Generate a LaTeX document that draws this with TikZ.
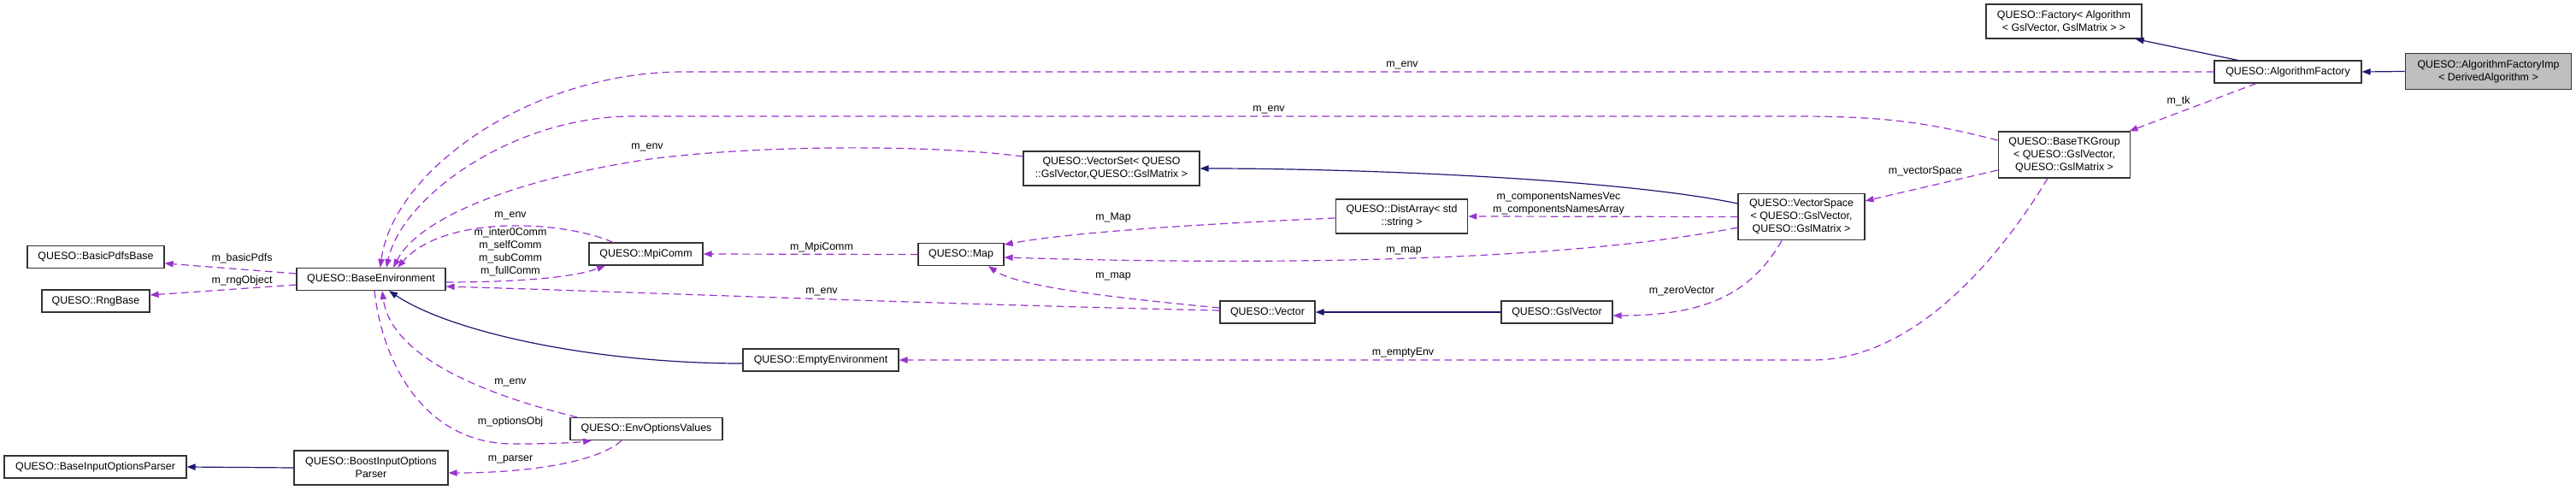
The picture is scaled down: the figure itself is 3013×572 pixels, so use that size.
\documentclass[tikz,border=0pt]{standalone}
\usepackage{fontspec}
\setmainfont{Liberation Sans}
\usetikzlibrary{arrows.meta}

\definecolor{usecol}{HTML}{9A32CD}
\definecolor{inhcol}{HTML}{191970}
\definecolor{boxfill}{HTML}{BFBFBF}

\tikzset{
  cls/.style={draw=black!80, line width=0.9pt, align=center, inner sep=0pt, minimum height=19.5pt},
  uses/.style={->, usecol, line width=0.9pt, dash pattern=on 6.5pt off 4pt},
  inherits/.style={->, inhcol, line width=0.9pt},
  lbl/.style={inner sep=0pt, align=center}
}

\begin{document}
\begin{tikzpicture}[x=0.75pt, y=-0.75pt, >={Triangle[length=7.5pt,width=5.5pt]},
  font=\fontsize{9.3pt}{11.2pt}\selectfont]

\useasboundingbox (0,0) rectangle (3013,572);

% one-line classes
\foreach \nm/\txt/\cx/\cy/\w in {af/AlgorithmFactory/2676/84/172, map/Map/1124/297.5/100,
    mpi/MpiComm/755.5/297/133, gsl/GslVector/1821/365/130, vec/Vector/1482.5/365/111,
    empty/EmptyEnvironment/960/421/182, benv/BaseEnvironment/434/326.5/174,
    pdfs/BasicPdfsBase/112/300.5/160, rng/RngBase/112/352/126,
    opts/EnvOptionsValues/756/501.5/178, bip/BaseInputOptionsParser/111.5/546/213}
  \node [cls, minimum width=\w*0.75pt] (\nm) at (\cx,\cy) {QUESO::\txt};

% classes on more lines
\node [cls, minimum width=146pt, minimum height=31pt, fill=boxfill] (imp) at (2910.5,83.5) {QUESO::AlgorithmFactoryImp\\< DerivedAlgorithm >};
\node [cls, minimum width=136.5pt, minimum height=30pt] (fac) at (2414,25) {QUESO::Factory< Algorithm\\< GslVector, GslMatrix > >};
\node [cls, minimum width=116pt, minimum height=40.5pt] (tk) at (2414.5,181) {QUESO::BaseTKGroup\\< QUESO::GslVector,\\ QUESO::GslMatrix >};
\node [cls, minimum width=111pt, minimum height=41pt] (vs) at (2107,253.5) {QUESO::VectorSpace\\< QUESO::GslVector,\\ QUESO::GslMatrix >};
\node [cls, minimum width=154.5pt, minimum height=30pt] (vset) at (1300,197) {QUESO::VectorSet< QUESO\\::GslVector,QUESO::GslMatrix >};
\node [cls, minimum width=116pt, minimum height=30pt] (da) at (1639.5,253) {QUESO::DistArray< std\\::string >};
\node [cls, minimum width=135pt, minimum height=30pt] (boost) at (434,547) {QUESO::BoostInputOptions\\Parser};

% inheritance
\draw [inherits] (imp.west) -- (af.east);
\draw [inherits] ([xshift=-44pt]af.north) -- ([xshift=-6pt]fac.south east);
\draw [inherits] ([yshift=11.6pt]vs.west) .. controls (1900,210) and (1600,197) .. (vset.east);
\draw [inherits] (gsl.west) -- (vec.east);
\draw [inherits] ([yshift=-3pt]empty.west) .. controls (700,425) and (530,390) .. ([xshift=15.75pt]benv.south);
\draw [inherits] (boost.west) -- (bip.east);

% usage
\draw [uses] (af.west) -- (800,84) .. controls (620,84) and (460,200) .. ([xshift=8pt]benv.north);
\draw [uses] ([xshift=-27.75pt]af.south) -- ([xshift=-1.5pt]tk.north east);
\draw [uses] ([yshift=12.75pt]tk.west) .. controls (2250,142) and (2200,136) .. (2100,136) -- (740,136)
  .. controls (600,136) and (470,230) .. ([xshift=13.5pt]benv.north);
\draw [uses] ([yshift=-13.5pt]tk.west) -- ([yshift=13.9pt]vs.east);
\draw [uses] ([xshift=-14.6pt]tk.south) .. controls (2340,300) and (2240,421) .. (2120,421) -- (empty.east);
\draw [uses] (vs.west) -- (da.east);
\draw [uses] ([yshift=-9.4pt]vs.west) .. controls (1800,312) and (1400,308) .. ([yshift=-2.6pt]map.east);
\draw [uses] ([xshift=-17.25pt]vs.south) .. controls (2050,340) and (2000,369) .. ([yshift=-3pt]gsl.east);
\draw [uses] ([yshift=10.5pt]vset.west) .. controls (1100,170) and (900,168) .. (760,186)
  .. controls (600,210) and (490,255) .. ([xshift=19.5pt]benv.north);
\draw [uses] ([yshift=-1.5pt]da.west) .. controls (1400,262) and (1250,272) .. ([yshift=8.6pt]map.east);
\draw [uses] (map.west) -- (mpi.east);
\draw [uses] ([yshift=3.75pt]vec.west) .. controls (1300,348) and (1190,335) .. ([xshift=24pt]map.south);
\draw [uses] ([yshift=1.5pt]vec.west) .. controls (1100,356) and (700,340) .. ([yshift=-6.4pt]benv.east);
\draw [uses] ([xshift=-28.9pt]mpi.north) .. controls (660,258) and (520,250) .. ([xshift=23.25pt]benv.north);
\draw [uses] ([yshift=-2.6pt]benv.east) .. controls (600,330) and (670,325) .. ([xshift=-35.6pt]mpi.south);
\draw [uses] ([yshift=4.9pt]benv.west) -- ([yshift=-5.6pt]pdfs.east);
\draw [uses] ([yshift=-4.9pt]benv.west) -- ([yshift=5.25pt]rng.east);
\draw [uses] ([xshift=-60.75pt]opts.north) .. controls (520,450) and (455,400) .. ([xshift=9.75pt]benv.south);
\draw [uses] ([xshift=3pt]benv.south) .. controls (448,430) and (500,519) .. (600,519)
  .. controls (640,519) and (670,518) .. ([xshift=-48pt]opts.south);
\draw [uses] ([xshift=-21.75pt]opts.south) .. controls (700,540) and (620,553) .. ([yshift=-4.5pt]boost.east);

% edge labels
\node [lbl] (lenv-af) at (1640,76) {m\_env};
\node [lbl] (ltk) at (2548,118) {m\_tk};
\node [lbl] (lenv-tk) at (1484,128) {m\_env};
\node [lbl] (lvs) at (2252,200) {m\_vectorSpace};
\node [lbl] (lempty) at (1641,413) {m\_emptyEnv};
\node [lbl] (lnames) at (1823,238) {m\_componentsNamesVec\\m\_componentsNamesArray};
\node [lbl] (lmap-vs) at (1642,293) {m\_map};
\node [lbl] (lzero) at (1967,340) {m\_zeroVector};
\node [lbl] (lenv-vset) at (757,172) {m\_env};
\node [lbl] (lmap-da) at (1302,255) {m\_Map};
\node [lbl] (lmpi) at (961,289) {m\_MpiComm};
\node [lbl] (lmap-vec) at (1302,323) {m\_map};
\node [lbl] (lenv-vec) at (961,341) {m\_env};
\node [lbl] (lenv-mpi) at (597,252) {m\_env};
\node [lbl] (lcomm) at (597,295) {m\_inter0Comm\\m\_selfComm\\m\_subComm\\m\_fullComm};
\node [lbl] (lpdfs) at (283,302) {m\_basicPdfs};
\node [lbl] (lrng) at (283,328) {m\_rngObject};
\node [lbl] (lenv-opts) at (597,447) {m\_env};
\node [lbl] (lopts) at (597,493) {m\_optionsObj};
\node [lbl] (lparser) at (597,537) {m\_parser};

\end{tikzpicture}
\end{document}
